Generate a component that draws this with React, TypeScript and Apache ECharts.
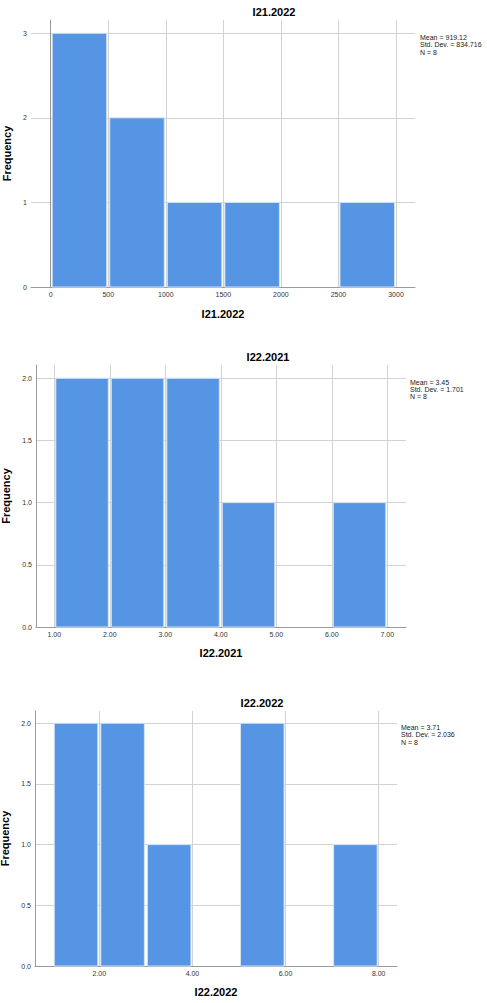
import React, { useEffect, useRef } from 'react';
import * as echarts from 'echarts';

const FONT = '"Liberation Sans", Arial, sans-serif';

// ---- Chart 1: I21.2022 ----
const I21_2022_EDGES = [0, 500, 1000, 1500, 2000, 2500, 3000];
const I21_2022_COUNTS = [3, 2, 1, 1, 0, 1];
const I21_2022_XTICKS = [0, 500, 1000, 1500, 2000, 2500, 3000];
const I21_2022_YTICKS = [0, 1, 2, 3];
const I21_2022_STATS = ['Mean = 919.12', 'Std. Dev. = 834.716', 'N = 8'];

// ---- Chart 2: I22.2021 ----
const I22_2021_EDGES = [1, 2, 3, 4, 5, 6, 7];
const I22_2021_COUNTS = [2, 2, 2, 1, 0, 1];
const I22_2021_XTICKS = [1, 2, 3, 4, 5, 6, 7];
const I22_2021_YTICKS = [0, 0.5, 1, 1.5, 2];
const I22_2021_STATS = ['Mean = 3.45', 'Std. Dev. = 1.701', 'N = 8'];

// ---- Chart 3: I22.2022 ----
const I22_2022_EDGES = [1, 2, 3, 4, 5, 6, 7, 8];
const I22_2022_COUNTS = [2, 2, 1, 0, 2, 0, 1];
const I22_2022_XTICKS = [2, 4, 6, 8];
const I22_2022_YTICKS = [0, 0.5, 1, 1.5, 2];
const I22_2022_STATS = ['Mean = 3.71', 'Std. Dev. = 2.036', 'N = 8'];

const panels = [
  {
    title: 'I21.2022', edges: I21_2022_EDGES, counts: I21_2022_COUNTS,
    xticks: I21_2022_XTICKS, yticks: I21_2022_YTICKS, stats: I21_2022_STATS,
    grid: { left: 31, top: 20, width: 384, height: 267 },
    xMin: -171, xMax: 3165, yMax: 3.157,
    xFmt: (v: number) => String(v), yFmt: (v: number) => String(v),
    titleX: 274, titleY: 11.7, statsX: 420, statsY: 34, xGap: 21, yGap: 13.5,
  },
  {
    title: 'I22.2021', edges: I22_2021_EDGES, counts: I22_2021_COUNTS,
    xticks: I22_2021_XTICKS, yticks: I22_2021_YTICKS, stats: I22_2021_STATS,
    grid: { left: 36, top: 365, width: 370, height: 262 },
    xMin: 0.67, xMax: 7.337, yMax: 2.107,
    xFmt: (v: number) => v.toFixed(2), yFmt: (v: number) => v.toFixed(1),
    titleX: 268, titleY: 356.8, statsX: 410, statsY: 378.6, xGap: 20.5, yGap: 19,
  },
  {
    title: 'I22.2022', edges: I22_2022_EDGES, counts: I22_2022_COUNTS,
    xticks: I22_2022_XTICKS, yticks: I22_2022_YTICKS, stats: I22_2022_STATS,
    grid: { left: 35, top: 711, width: 362, height: 255 },
    xMin: 0.619, xMax: 8.393, yMax: 2.101,
    xFmt: (v: number) => v.toFixed(2), yFmt: (v: number) => v.toFixed(1),
    titleX: 262, titleY: 702.5, statsX: 401, statsY: 724, xGap: 20.5, yGap: 18,
  },
];

const GRID_COLOR = '#d2d2d2';
const AXIS_COLOR = '#9a9a9a';
const BAR_COLOR = '#5595e3';

export default function App() {
  const ref = useRef<HTMLDivElement>(null);

  useEffect(() => {
    document.body.style.margin = '0';
    if (!ref.current) return;
    const chart = echarts.init(ref.current, null, { renderer: 'svg' });

    const grids = panels.map((p) => ({ ...p.grid, containLabel: false, outerBoundsMode: 'none' }));
    const xAxes = panels.map((p, i) => ({
      type: 'value', gridIndex: i, min: p.xMin, max: p.xMax,
      name: p.title, nameLocation: 'middle', nameGap: p.xGap,
      nameTextStyle: { fontFamily: FONT, fontSize: 11, fontWeight: 'bold', color: '#000' },
      axisLine: { show: true, onZero: false, lineStyle: { color: AXIS_COLOR, width: 1 } },
      axisTick: { show: false, customValues: p.xticks },
      axisLabel: { customValues: p.xticks, formatter: p.xFmt, margin: 4, fontFamily: FONT, fontSize: 7, color: '#333' },
      splitLine: { show: true, lineStyle: { color: GRID_COLOR, width: 1 } },
    }));
    const yAxes = panels.map((p, i) => ({
      type: 'value', gridIndex: i, min: 0, max: p.yMax,
      name: 'Frequency', nameLocation: 'middle', nameGap: p.yGap,
      nameTextStyle: { fontFamily: FONT, fontSize: 11, fontWeight: 'bold', color: '#000' },
      axisLine: { show: true, lineStyle: { color: AXIS_COLOR, width: 1 } },
      axisTick: { show: false, customValues: p.yticks },
      axisLabel: { customValues: p.yticks, formatter: p.yFmt, margin: 4, fontFamily: FONT, fontSize: 7, color: '#333' },
      splitLine: { show: true, lineStyle: { color: GRID_COLOR, width: 1 } },
    }));

    const series = panels.map((p, i) => ({
      type: 'custom', xAxisIndex: i, yAxisIndex: i,
      data: p.counts.map((c, k) => [p.edges[k], p.edges[k + 1], c]),
      encode: { x: [0, 1], y: 2 },
      renderItem: (params: any, api: any) => {
        const x0 = api.value(0), x1 = api.value(1), y = api.value(2);
        if (!y) return null;
        const a = api.coord([x0, y]);
        const b = api.coord([x1, 0]);
        return {
          type: 'rect',
          shape: { x: a[0] + 1.5, y: a[1], width: b[0] - a[0] - 3, height: b[1] - a[1] },
          style: { fill: BAR_COLOR, stroke: '#d6e3f4', lineWidth: 1 },
        };
      },
    }));

    const graphics: any[] = [];
    panels.forEach((p) => {
      graphics.push({
        type: 'text', x: p.titleX, y: p.titleY,
        style: { text: p.title, align: 'center', verticalAlign: 'middle', font: `bold 11px ${FONT}`, fill: '#000' },
      });
      graphics.push({
        type: 'text', x: p.statsX, y: p.statsY,
        style: { text: p.stats.join('\n'), align: 'left', verticalAlign: 'top', font: `7px ${FONT}`, lineHeight: 7.3, fill: '#222' },
      });
    });

    chart.setOption({
      animation: false,
      backgroundColor: '#fff',
      grid: grids,
      xAxis: xAxes,
      yAxis: yAxes,
      series,
      graphic: graphics,
    } as any);

    return () => chart.dispose();
  }, []);

  return <div ref={ref} style={{ width: 487, height: 1003 }} />;
}
